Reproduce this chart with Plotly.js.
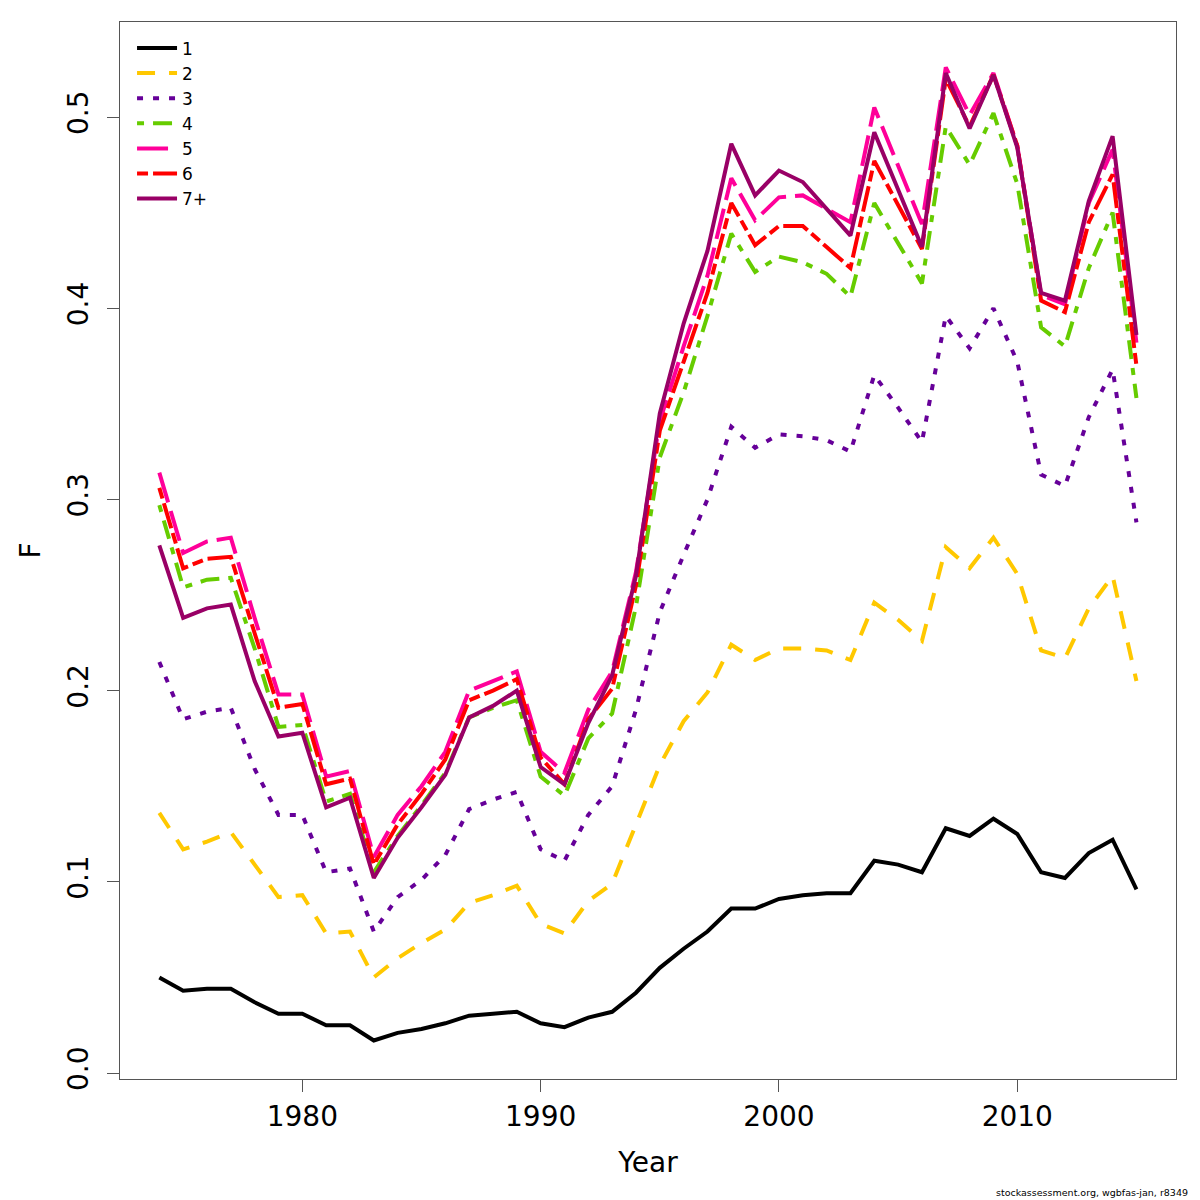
<!DOCTYPE html>
<html>
<head>
<meta charset="utf-8">
<script src="https://cdn.plot.ly/plotly-3.0.1.min.js"></script>
<style>
html,body{margin:0;padding:0;background:#fff;}
#chart{width:1200px;height:1200px;}
</style>
</head>
<body>
<div id="chart"></div>
<script>
const years = [1974,1975,1976,1977,1978,1979,1980,1981,1982,1983,
  1984,1985,1986,1987,1988,1989,1990,1991,1992,1993,
  1994,1995,1996,1997,1998,1999,2000,2001,2002,2003,
  2004,2005,2006,2007,2008,2009,2010,2011,2012,2013,
  2014,2015];

const age1 = [0.050,0.043,0.044,0.044,0.037,0.031,0.031,0.025,0.025,0.017,
  0.021,0.023,0.026,0.030,0.031,0.032,0.026,0.024,0.029,0.032,
  0.042,0.055,0.065,0.074,0.086,0.086,0.091,0.093,0.094,0.094,
  0.111,0.109,0.105,0.128,0.124,0.133,0.125,0.105,0.102,0.115,
  0.122,0.096];

const age2 = [0.136,0.117,0.121,0.126,0.109,0.092,0.093,0.073,0.074,0.050,
  0.060,0.068,0.075,0.089,0.093,0.098,0.078,0.073,0.090,0.099,
  0.130,0.161,0.184,0.199,0.224,0.216,0.222,0.222,0.221,0.216,
  0.246,0.237,0.226,0.275,0.264,0.280,0.261,0.221,0.217,0.243,
  0.260,0.205];

const age3 = [0.215,0.185,0.189,0.191,0.159,0.135,0.135,0.105,0.107,0.074,
  0.092,0.101,0.114,0.138,0.143,0.147,0.117,0.111,0.135,0.150,
  0.190,0.241,0.271,0.300,0.338,0.327,0.334,0.333,0.331,0.325,
  0.365,0.348,0.330,0.396,0.379,0.400,0.372,0.313,0.307,0.343,
  0.368,0.288];

const age4 = [0.297,0.254,0.258,0.259,0.222,0.181,0.182,0.142,0.146,0.105,
  0.124,0.140,0.157,0.186,0.191,0.195,0.155,0.145,0.175,0.188,
  0.244,0.322,0.356,0.396,0.439,0.419,0.427,0.424,0.418,0.406,
  0.455,0.434,0.413,0.495,0.475,0.502,0.465,0.390,0.380,0.421,
  0.450,0.353];

const age5 = [0.314,0.272,0.278,0.280,0.238,0.198,0.198,0.155,0.158,0.113,
  0.135,0.150,0.168,0.200,0.205,0.210,0.168,0.157,0.190,0.210,
  0.262,0.341,0.380,0.417,0.468,0.446,0.458,0.459,0.452,0.445,
  0.505,0.475,0.444,0.526,0.501,0.523,0.485,0.407,0.402,0.455,
  0.483,0.382];

const age6 = [0.306,0.264,0.269,0.270,0.230,0.191,0.193,0.151,0.154,0.109,
  0.130,0.146,0.164,0.195,0.200,0.206,0.165,0.151,0.185,0.201,
  0.255,0.336,0.372,0.408,0.455,0.433,0.443,0.443,0.432,0.421,
  0.477,0.454,0.431,0.520,0.495,0.522,0.485,0.404,0.398,0.445,
  0.470,0.370];

const age7 = [0.276,0.238,0.243,0.245,0.205,0.176,0.178,0.139,0.144,0.102,
  0.123,0.139,0.156,0.186,0.192,0.200,0.160,0.151,0.183,0.208,
  0.260,0.345,0.392,0.430,0.486,0.459,0.472,0.466,0.452,0.438,
  0.492,0.462,0.432,0.523,0.494,0.522,0.484,0.408,0.404,0.456,
  0.490,0.386];

const seriesNames = ["1","2","3","4","5","6","7+"];
const seriesData = [age1, age2, age3, age4, age5, age6, age7];
const colors = ["#000000","#FFC800","#660099","#66CC00","#FF0099","#FF0000","#990066"];
const dashes = ["solid","18px,14px","6px,10px","7px,9px,19px,9px","31px,9px","11px,5px,26px,5px","solid"];

const traces = seriesNames.map((nm, i) => ({
  x: years,
  y: seriesData[i],
  name: nm,
  type: "scatter",
  mode: "lines",
  line: {color: colors[i], width: 4, dash: dashes[i]}
}));

const font = "DejaVu Sans, Liberation Sans, sans-serif";

const layout = {
  width: 1200,
  height: 1200,
  paper_bgcolor: "#ffffff",
  plot_bgcolor: "#ffffff",
  margin: {l: 120, r: 24, t: 22, b: 121},
  font: {family: font, color: "#000000", size: 28},
  showlegend: true,
  legend: {
    x: 0.0114, y: 0.992, xanchor: "left", yanchor: "top",
    bgcolor: "rgba(0,0,0,0)", borderwidth: 0,
    font: {family: font, size: 17, color: "#000"},
    itemwidth: 40,
    tracegroupgap: 0
  },
  xaxis: {
    range: [1972.35, 2016.66],
    tick0: 1980, dtick: 10,
    showgrid: false, zeroline: false,
    showline: true, mirror: true, linecolor: "#555555", linewidth: 1,
    ticks: "outside", ticklen: 12, tickcolor: "#555555", tickwidth: 1,
    tickfont: {family: font, size: 28, color: "#000"},
    title: {text: "Year", font: {family: font, size: 28, color: "#000"}, standoff: 20}
  },
  yaxis: {
    range: [-0.00314, 0.5497],
    tick0: 0, dtick: 0.1, tickformat: ".1f",
    showgrid: false, zeroline: false,
    showline: true, mirror: true, linecolor: "#555555", linewidth: 1,
    ticks: "outside", ticklen: 12, tickcolor: "#555555", tickwidth: 1,
    tickangle: -90,
    ticklabelstandoff: 8,
    tickfont: {family: font, size: 28, color: "#000"},
    title: {text: "F", font: {family: font, size: 28, color: "#000"}, standoff: 12}
  },
  annotations: [{
    text: "stockassessment.org, wgbfas-jan, r8349",
    xref: "paper", yref: "paper",
    x: 1.0133, y: -0.1075,
    xanchor: "right", yanchor: "middle",
    showarrow: false,
    font: {family: font, size: 9.5, color: "#000"}
  }]
};

Plotly.newPlot("chart", traces, layout, {displayModeBar: false, staticPlot: true});
</script>
</body>
</html>
